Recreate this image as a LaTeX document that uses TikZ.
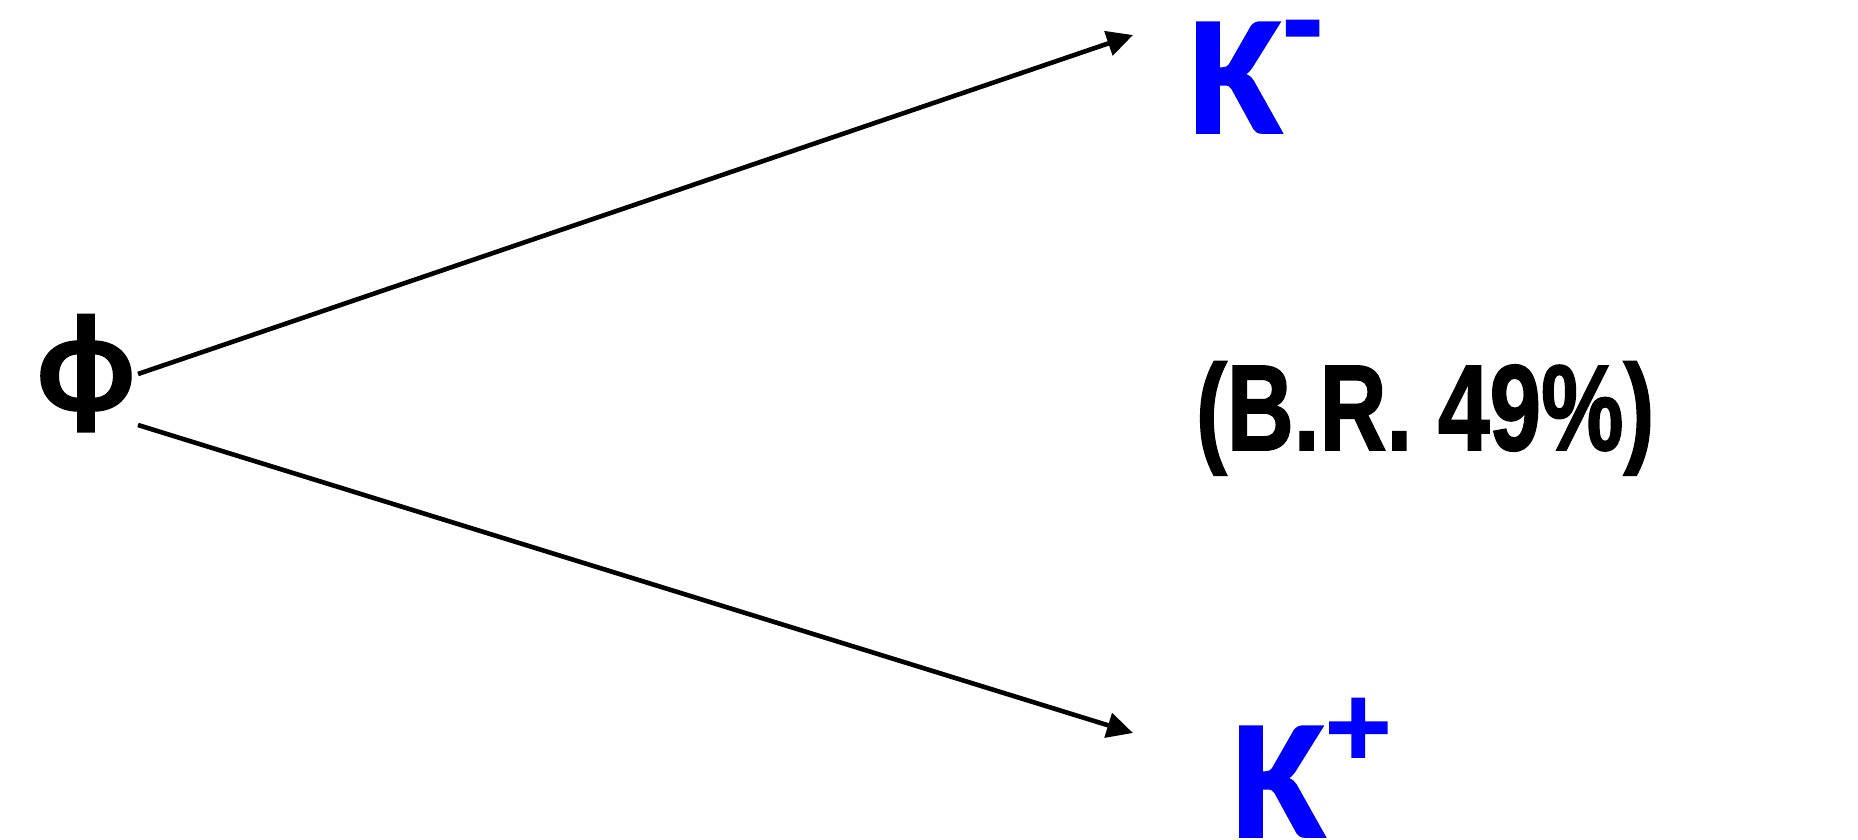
\documentclass[tikz,border=0pt]{standalone}
\usepackage{fontspec}
\usetikzlibrary{arrows.meta}
\newfontfamily\calheavy{Carlito Bold}[FakeBold=1]
\newfontfamily\helvheavy{Liberation Sans Bold}[FakeBold=1.5]
\definecolor{kaon}{RGB}{0,0,255}
\begin{document}
\begin{tikzpicture}[x=1pt,y=-1pt,
  lbl/.style={inner sep=0pt, outer sep=0pt},
  particle/.style={lbl, text=kaon, font=\calheavy\fontsize{171}{171}\selectfont},
  decay/.style={line width=4.6pt, -{Triangle[length=26pt,width=25pt]}}]
\useasboundingbox (0,0) rectangle (1858,839);
% parent meson
\node[lbl, anchor=base, font=\calheavy\fontsize{140}{140}\selectfont] (phi) at (86,410) {ϕ};
% decay products
\node[particle, anchor=base west] (Km) at (1189,133)
  {K\kern0pt\raisebox{62pt}{\fontsize{150}{150}\selectfont\resizebox{40pt}{\height}{-}}};
\node[particle, anchor=base west] (Kp) at (1232,837)
  {K\kern2pt\raisebox{70pt}{\fontsize{124}{124}\selectfont +}};
% branching ratio
\node[lbl, anchor=base west, font=\helvheavy\fontsize{122}{122}\selectfont] (br) at (1196,450)
  {\scalebox{0.76}[1]{(B.R. 49\%)}};
% decay arrows
\coordinate (phiU) at (138,374);
\coordinate (phiD) at (138,425);
\coordinate (KmTip) at (1133,35);
\coordinate (KpTip) at (1133,733);
\draw[decay] (phiU) -- (KmTip);
\draw[decay] (phiD) -- (KpTip);
\end{tikzpicture}
\end{document}
